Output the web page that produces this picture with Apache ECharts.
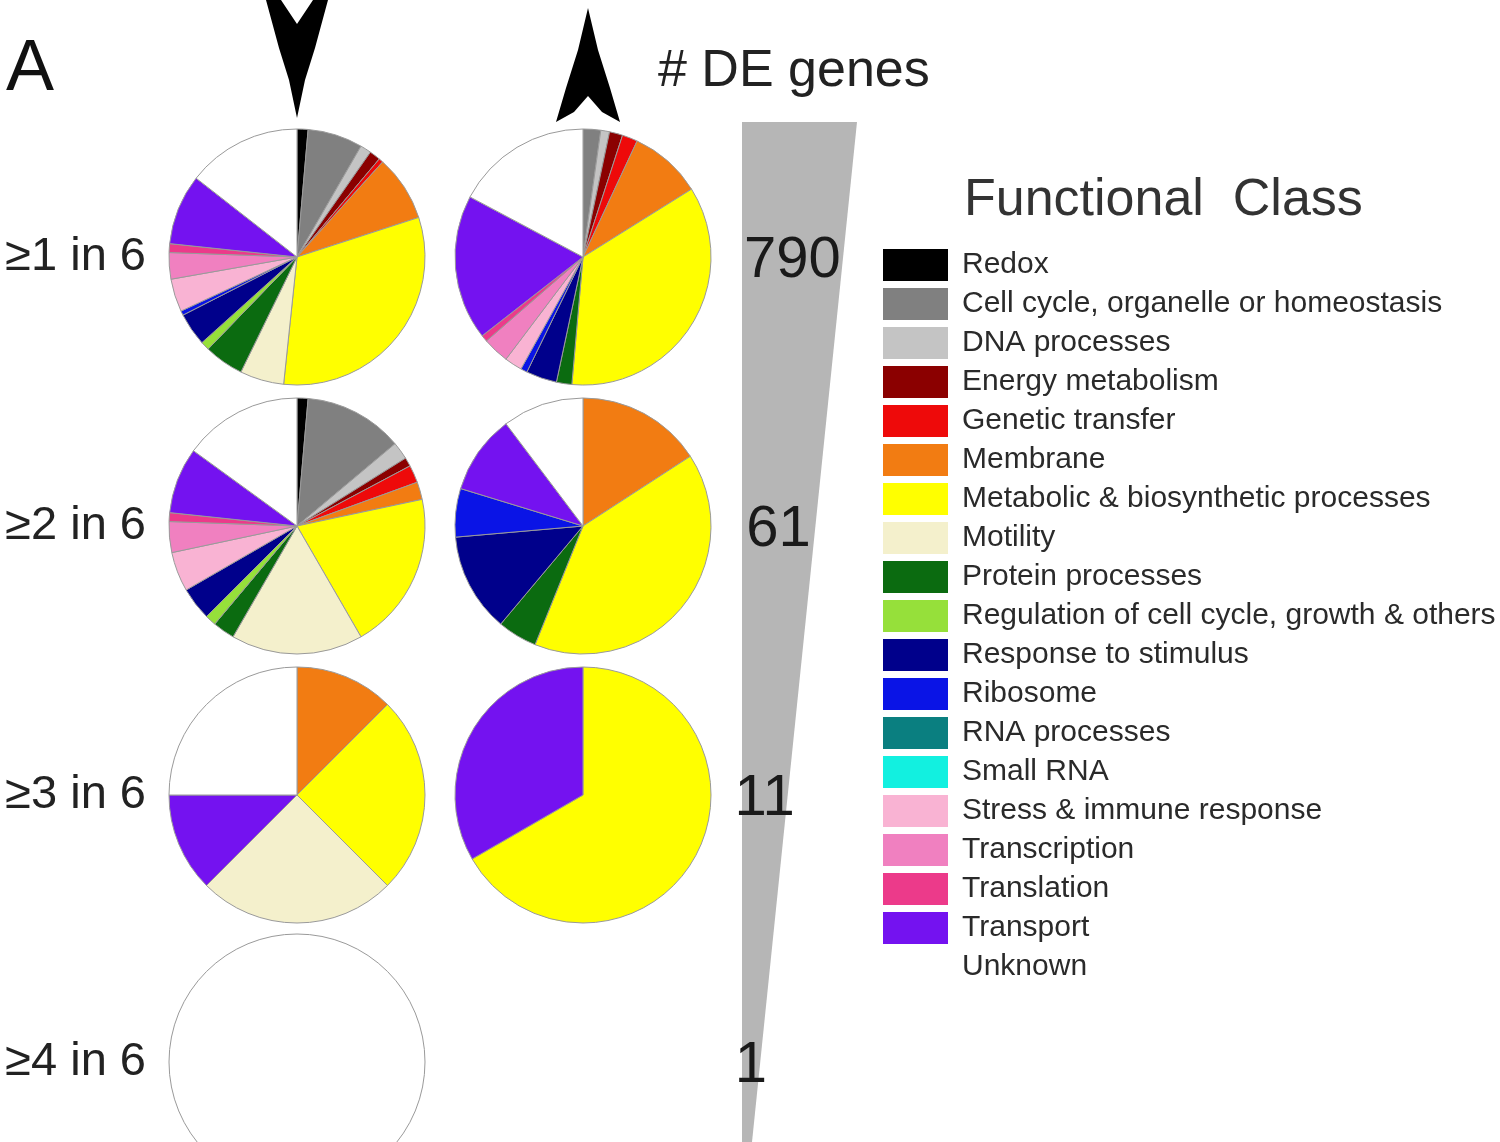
<!DOCTYPE html>
<html><head><meta charset="utf-8">
<script src="https://cdn.jsdelivr.net/npm/echarts@6/dist/echarts.min.js"></script>
<style>html,body{margin:0;padding:0;background:#fff}#c{width:1500px;height:1142px}</style>
</head><body><div id="c"></div>
<script>
// ---------- data ----------
const categories = [
  'Redox',
  'Cell cycle, organelle or homeostasis',
  'DNA processes',
  'Energy metabolism',
  'Genetic transfer',
  'Membrane',
  'Metabolic & biosynthetic processes',
  'Motility',
  'Protein processes',
  'Regulation of cell cycle, growth & others',
  'Response to stimulus',
  'Ribosome',
  'RNA processes',
  'Small RNA',
  'Stress & immune response',
  'Transcription',
  'Translation',
  'Transport',
  'Unknown'
];
const classColors = [
  '#000000', '#808080', '#c4c4c4', '#8b0000', '#ee0a0a', '#f27c12',
  '#ffff00', '#f4f0cc', '#0b6b10', '#96e03a', '#00008b', '#0a14e6',
  '#0a7f80', '#12f0e0', '#f9b3d3', '#f080c0', '#ec3a8a', '#7412f0', '#ffffff'
];
const rowLabels = ['\u22651 in 6', '\u22652 in 6', '\u22653 in 6', '\u22654 in 6'];
const deGeneCounts = [790, 61, 11, 1];

// estimated shares (degrees of arc) per functional class, in category order
const down1 = [5, 25, 5, 5, 2, 30, 114, 20, 18, 4, 15, 2, 0, 0, 15, 12, 4, 32, 52];
const up1   = [0, 8, 4, 6, 7, 33, 127, 0, 7, 0, 14, 3, 0, 0, 8, 12, 3, 66, 62];
const down2 = [5, 45, 8, 4, 8, 8, 72, 60, 10, 5, 15, 0, 0, 0, 18, 14, 4, 30, 54];
const up2   = [0, 0, 0, 0, 0, 57, 145, 0, 18, 0, 45, 22, 0, 0, 0, 0, 0, 36, 37];
const down3 = [0, 0, 0, 0, 0, 45, 90, 90, 0, 0, 0, 0, 0, 0, 0, 0, 0, 45, 90];
const up3   = [0, 0, 0, 0, 0, 0, 240, 0, 0, 0, 0, 0, 0, 0, 0, 0, 0, 120, 0];
const down4 = [0, 0, 0, 0, 0, 0, 0, 0, 0, 0, 0, 0, 0, 0, 0, 0, 0, 0, 360];

const pies = [
  { row: 0, col: 0, values: down1 }, { row: 0, col: 1, values: up1 },
  { row: 1, col: 0, values: down2 }, { row: 1, col: 1, values: up2 },
  { row: 2, col: 0, values: down3 }, { row: 2, col: 1, values: up3 },
  { row: 3, col: 0, values: down4 }
];

// ---------- layout ----------
const FONT = '"Liberation Sans", Arial, Helvetica, sans-serif';
const colX = [297, 583];
const rowY = [257, 526, 795, 1062];
const R = 128;
const wedgeTop = 122, wedgeBottom = 1142, wedgeLeft = 742, wedgeRightTop = 857, wedgeRightBottom = 752;

function wedgeCenterAt(y) {
  const t = (y - wedgeTop) / (wedgeBottom - wedgeTop);
  const right = wedgeRightTop + (wedgeRightBottom - wedgeRightTop) * t;
  return (wedgeLeft + right) / 2;
}

const series = pies.map(function (p, i) {
  return {
    type: 'pie',
    name: 'pie' + i,
    center: [colX[p.col], rowY[p.row]],
    radius: [0, R],
    startAngle: 90,
    clockwise: true,
    avoidLabelOverlap: false,
    label: { show: false },
    labelLine: { show: false },
    emphasis: { disabled: true },
    silent: true,
    minAngle: 0,
    itemStyle: { borderColor: '#9a9a9a', borderWidth: 1 },
    data: categories.map(function (c, k) {
      return {
        name: c,
        value: p.values[k],
        itemStyle: { color: classColors[k], borderWidth: p.values[k] > 0 ? 1 : 0 }
      };
    })
  };
});

const graphic = [];
graphic.push({ type: 'text', x: 6, y: 70, style: { text: 'A', font: '72px ' + FONT, fill: '#111', verticalAlign: 'middle' } });
// down arrow above column 1
const ax = colX[0];
graphic.push({ type: 'polygon', shape: { points: [
  [ax - 31, 0], [ax - 16, 0], [ax, 24], [ax + 16, 0], [ax + 31, 0],
  [ax + 18, 48], [ax + 8, 80], [ax, 118], [ax - 8, 80], [ax - 18, 48]
] }, style: { fill: '#000' } });
// up arrow above column 2
const bx = colX[1] + 5;
graphic.push({ type: 'polygon', shape: { points: [
  [bx, 8], [bx + 10, 50], [bx + 22, 88], [bx + 32, 122], [bx + 14, 112], [bx, 96],
  [bx - 14, 112], [bx - 32, 122], [bx - 22, 88], [bx - 10, 50]
] }, style: { fill: '#000' } });
graphic.push({ type: 'text', x: 658, y: 72, style: { text: '# DE genes', font: '52px ' + FONT, fill: '#222', verticalAlign: 'middle' } });
// gray wedge
graphic.push({ type: 'polygon', shape: { points: [
  [wedgeLeft, wedgeTop], [wedgeRightTop, wedgeTop], [wedgeRightBottom, wedgeBottom], [wedgeLeft, wedgeBottom]
] }, style: { fill: '#b6b6b6' } });
deGeneCounts.forEach(function (n, i) {
  const y = rowY[i] + 4;
  graphic.push({ type: 'text', x: wedgeCenterAt(y), y: y, style: {
    text: String(n), font: '58px ' + FONT, fill: '#1a1a1a', align: 'center', verticalAlign: 'middle' } });
});
rowLabels.forEach(function (t, i) {
  graphic.push({ type: 'text', x: 146, y: rowY[i], style: {
    text: t, font: '47px ' + FONT, fill: '#222', align: 'right', verticalAlign: 'middle' } });
});
graphic.push({ type: 'text', x: 964, y: 201, style: { text: 'Functional  Class', font: '52px ' + FONT, fill: '#333', verticalAlign: 'middle' } });

const option = {
  animation: false,
  backgroundColor: '#ffffff',
  color: classColors,
  legend: {
    orient: 'vertical',
    left: 878,
    top: 244,
    itemWidth: 65,
    itemHeight: 32,
    itemGap: 7,
    icon: 'rect',
    selectedMode: false,
    data: categories,
    itemStyle: { borderWidth: 0 },
    textStyle: { fontSize: 30, fontFamily: FONT, color: '#2a2a2a', padding: [0, 0, 0, 9], lineHeight: 32 }
  },
  series: series,
  graphic: graphic
};

const chart = echarts.init(document.getElementById('c'), null, { renderer: 'canvas' });
chart.setOption(option);
</script></body></html>
